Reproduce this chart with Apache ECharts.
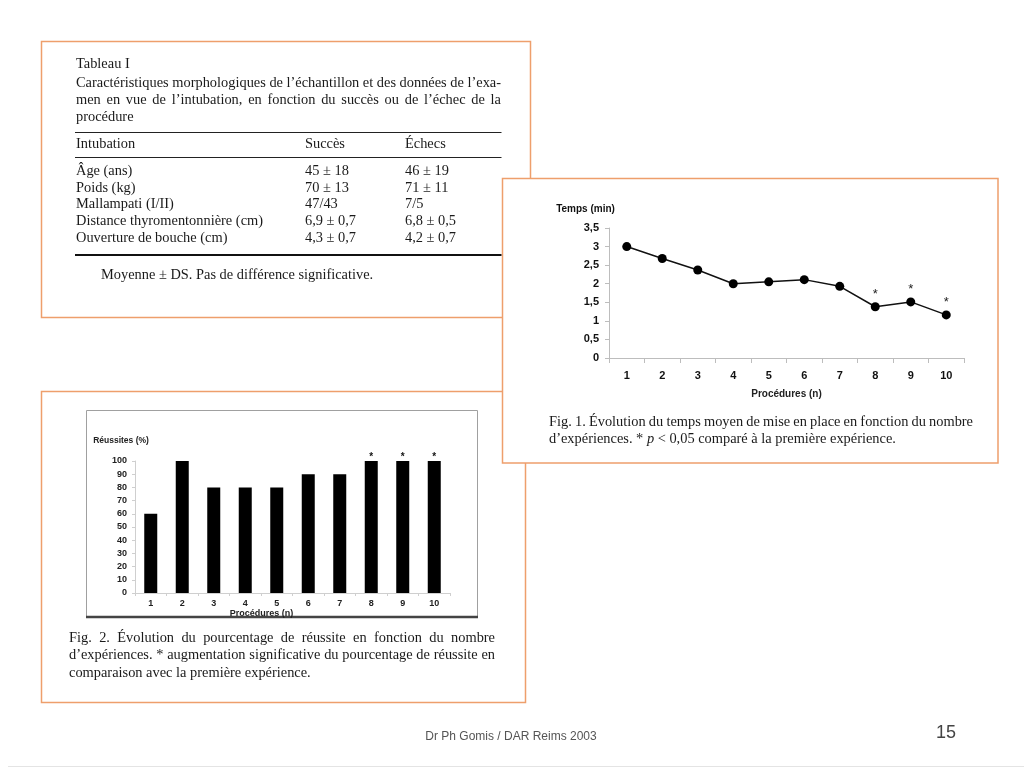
<!DOCTYPE html>
<html><head><meta charset="utf-8">
<script src="https://cdn.jsdelivr.net/npm/echarts@6/dist/echarts.min.js"></script>
<style>html,body{margin:0;padding:0;background:#fff}#c{width:1024px;height:768px}</style>
</head><body><div id="c"></div>
<script>
// ---------- data ----------
const procedures = ['1', '2', '3', '4', '5', '6', '7', '8', '9', '10'];
const tempsMin = [3.0, 2.68, 2.37, 2.0, 2.05, 2.11, 1.93, 1.38, 1.51, 1.16];
const tempsSignif = ['', '', '', '', '', '', '', '*', '*', '*'];
const reussites = [60, 100, 80, 80, 80, 90, 90, 100, 100, 100];
const reussitesSignif = ['', '', '', '', '', '', '', '*', '*', '*'];

const tableTitle = 'Tableau I';
const tableCaption = [
  'Caractéristiques morphologiques de l’échantillon et des données de l’exa-',
  'men en vue de l’intubation, en fonction du succès ou de l’échec de la',
  'procédure'
];
const tableHeader = ['Intubation', 'Succès', 'Échecs'];
const tableRows = ['Âge (ans)', 'Poids (kg)', 'Mallampati (I/II)', 'Distance thyromentonnière (cm)', 'Ouverture de bouche (cm)'];
const tableSucces = ['45 ± 18', '70 ± 13', '47/43', '6,9 ± 0,7', '4,3 ± 0,7'];
const tableEchecs = ['46 ± 19', '71 ± 11', '7/5', '6,8 ± 0,5', '4,2 ± 0,7'];
const tableNote = 'Moyenne ± DS. Pas de différence significative.';

const fig1Caption = ['Fig. 1. Évolution du temps moyen de mise en place en fonction du nombre',
  ['d’expériences. * ', 'p', ' < 0,05 comparé à la première expérience.']];
const fig2Caption = ['Fig. 2. Évolution du pourcentage de réussite en fonction du nombre',
  'd’expériences. * augmentation significative du pourcentage de réussite en',
  'comparaison avec la première expérience.'];
const footerText = 'Dr Ph Gomis / DAR Reims 2003';
const pageNumber = '15';

// ---------- helpers ----------
const SERIF = '"Liberation Serif", "Times New Roman", serif';
const SANS = '"Liberation Sans", Arial, sans-serif';
const FS = 14.4;
const mctx = document.createElement('canvas').getContext('2d');
function textW(s, size, family, style, weight) {
  mctx.font = (style || 'normal') + ' ' + (weight || 'normal') + ' ' + size + 'px ' + family;
  return mctx.measureText(s).width;
}
function txt(s, x, y, o) {
  return { type: 'text', x: x, y: y, silent: true,
    style: Object.assign({ text: s, fontSize: FS, fontFamily: SERIF, fill: '#1a1a1a',
      align: 'left', verticalAlign: 'middle' }, o || {}) };
}
function justified(line, x, y, width) {
  const words = line.split(' ');
  const ws = words.map(w => textW(w, FS, SERIF));
  const gap = (width - ws.reduce((a, b) => a + b, 0)) / (words.length - 1);
  let cx = x;
  return words.map((w, i) => { const e = txt(w, cx, y); cx += ws[i] + gap; return e; });
}
function pieces(parts, x, y) {
  let cx = x; const out = [];
  parts.forEach((p, i) => {
    const st = i === 1 ? 'italic' : 'normal';
    out.push(txt(p, cx, y, { fontStyle: st }));
    cx += textW(p, FS, SERIF, st);
  });
  return out;
}
const ORANGE = '#ee9f6c';

// ---------- graphic ----------
const g = [];
// panels
g.push({ type: 'polyline', silent: true, shape: { points: [[502, 317.5], [41.5, 317.5], [41.5, 41.5], [530.5, 41.5], [530.5, 178]] },
  style: { stroke: ORANGE, fill: null, lineWidth: 1.5 } });
g.push({ type: 'polyline', silent: true, shape: { points: [[502, 391.5], [41.5, 391.5], [41.5, 702.5], [525.5, 702.5], [525.5, 463]] },
  style: { stroke: ORANGE, fill: null, lineWidth: 1.5 } });
g.push({ type: 'rect', silent: true, shape: { x: 502.5, y: 178.5, width: 495.5, height: 284.5 },
  style: { stroke: ORANGE, fill: null, lineWidth: 1.5 } });

// table
g.push(txt(tableTitle, 76, 64));
g.push(...justified(tableCaption[0], 76, 83, 425));
g.push(...justified(tableCaption[1], 76, 100, 425));
g.push(txt(tableCaption[2], 76, 117.5));
const colX = [76, 305, 405];
g.push({ type: 'line', silent: true, shape: { x1: 75, y1: 132.5, x2: 501.5, y2: 132.5 }, style: { stroke: '#222', lineWidth: 1 } });
tableHeader.forEach((h, i) => g.push(txt(h, colX[i], 144.5)));
g.push({ type: 'line', silent: true, shape: { x1: 75, y1: 157.5, x2: 501.5, y2: 157.5 }, style: { stroke: '#222', lineWidth: 1 } });
const rowY = [171, 188, 204.5, 221.5, 238.5];
tableRows.forEach((r, i) => {
  g.push(txt(r, colX[0], rowY[i]));
  g.push(txt(tableSucces[i], colX[1], rowY[i]));
  g.push(txt(tableEchecs[i], colX[2], rowY[i]));
});
g.push({ type: 'line', silent: true, shape: { x1: 75, y1: 255, x2: 501.5, y2: 255 }, style: { stroke: '#111', lineWidth: 2.2 } });
g.push(txt(tableNote, 101, 275));

// fig 1 caption
g.push(...justified(fig1Caption[0], 549, 422, 424));
g.push(...pieces(fig1Caption[1], 549, 439));

// fig 2 frame and caption
g.push({ type: 'rect', silent: true, shape: { x: 86.5, y: 410.5, width: 391, height: 206 },
  style: { stroke: '#a0a0a0', fill: null, lineWidth: 1 } });
g.push({ type: 'line', silent: true, shape: { x1: 86, y1: 617, x2: 478, y2: 617 }, style: { stroke: '#444', lineWidth: 2.5 } });
g.push(...justified(fig2Caption[0], 69, 638, 426));
g.push(...justified(fig2Caption[1], 69, 655.5, 426));
g.push(txt(fig2Caption[2], 69, 673));

// footer
g.push(txt(footerText, 511, 737, { fontFamily: SANS, fontSize: 12, fill: '#555', align: 'center' }));
g.push(txt(pageNumber, 946, 733, { fontFamily: SANS, fontSize: 18, fill: '#444', align: 'center' }));
g.push({ type: 'line', silent: true, shape: { x1: 8, y1: 766.5, x2: 1024, y2: 766.5 }, style: { stroke: '#e4e4e4', lineWidth: 1 } });

// ---------- chart ----------
const chart = echarts.init(document.getElementById('c'), null, { renderer: 'canvas' });
const axisGray = '#bdbdbd';
chart.setOption({
  animation: false,
  backgroundColor: '#fff',
  graphic: g,
  grid: [
    { left: 609, top: 228, width: 355, height: 130 },
    { left: 135, top: 461, width: 315, height: 132 }
  ],
  xAxis: [
    { gridIndex: 0, type: 'category', data: procedures, boundaryGap: true,
      axisLine: { lineStyle: { color: axisGray } },
      axisTick: { show: true, length: 5, lineStyle: { color: axisGray } },
      axisLabel: { margin: 12, fontSize: 11, fontWeight: 'bold', fontFamily: SANS, color: '#111' },
      name: 'Procédures (n)', nameLocation: 'middle', nameGap: 31,
      nameTextStyle: { fontSize: 10, fontWeight: 'bold', fontFamily: SANS, color: '#222' } },
    { gridIndex: 1, type: 'category', data: procedures, boundaryGap: true,
      axisLine: { lineStyle: { color: '#cfcfcf' } },
      axisTick: { show: true, length: 3, lineStyle: { color: '#cfcfcf' } },
      axisLabel: { margin: 6, fontSize: 9, fontWeight: 'bold', fontFamily: SANS, color: '#222' },
      name: 'Procédures (n)', nameLocation: 'middle', nameGap: 14,
      nameTextStyle: { fontSize: 9, fontWeight: 'bold', fontFamily: SANS, color: '#222', padding: [0, 62, 0, 0] } }
  ],
  yAxis: [
    { gridIndex: 0, type: 'value', min: 0, max: 3.5, interval: 0.5,
      axisLine: { show: true, lineStyle: { color: axisGray } },
      axisTick: { show: true, length: 4, lineStyle: { color: axisGray } },
      splitLine: { show: false },
      axisLabel: { margin: 10, fontSize: 11, fontWeight: 'bold', fontFamily: SANS, color: '#111',
        formatter: v => String(v).replace('.', ',') },
      name: 'Temps (min)', nameLocation: 'end', nameGap: 14,
      nameTextStyle: { fontSize: 10, fontWeight: 'bold', fontFamily: SANS, color: '#111', align: 'center', padding: [0, 47, 0, 0] } },
    { gridIndex: 1, type: 'value', min: 0, max: 100, interval: 10,
      axisLine: { show: true, lineStyle: { color: '#cfcfcf' } },
      axisTick: { show: true, length: 3, lineStyle: { color: '#cfcfcf' } },
      splitLine: { show: false },
      axisLabel: { margin: 8, fontSize: 9, fontWeight: 'bold', fontFamily: SANS, color: '#222' },
      name: 'Réussites (%)', nameLocation: 'end', nameGap: 16,
      nameTextStyle: { fontSize: 8.5, fontWeight: 'bold', fontFamily: SANS, color: '#222', align: 'center', padding: [0, 28, 0, 0] } }
  ],
  series: [
    { type: 'line', xAxisIndex: 0, yAxisIndex: 0, data: tempsMin,
      symbol: 'circle', symbolSize: 9,
      lineStyle: { color: '#111', width: 1.5 }, itemStyle: { color: '#000' },
      label: { show: true, position: 'top', distance: 1, fontSize: 13, color: '#222', fontFamily: SANS,
        formatter: p => tempsSignif[p.dataIndex] } },
    { type: 'bar', xAxisIndex: 1, yAxisIndex: 1, data: reussites, barWidth: 13,
      itemStyle: { color: '#000' },
      label: { show: true, position: 'top', distance: -1, fontSize: 10, fontWeight: 'bold', color: '#111', fontFamily: SANS,
        formatter: p => reussitesSignif[p.dataIndex] } }
  ]
});
</script>
</body></html>
